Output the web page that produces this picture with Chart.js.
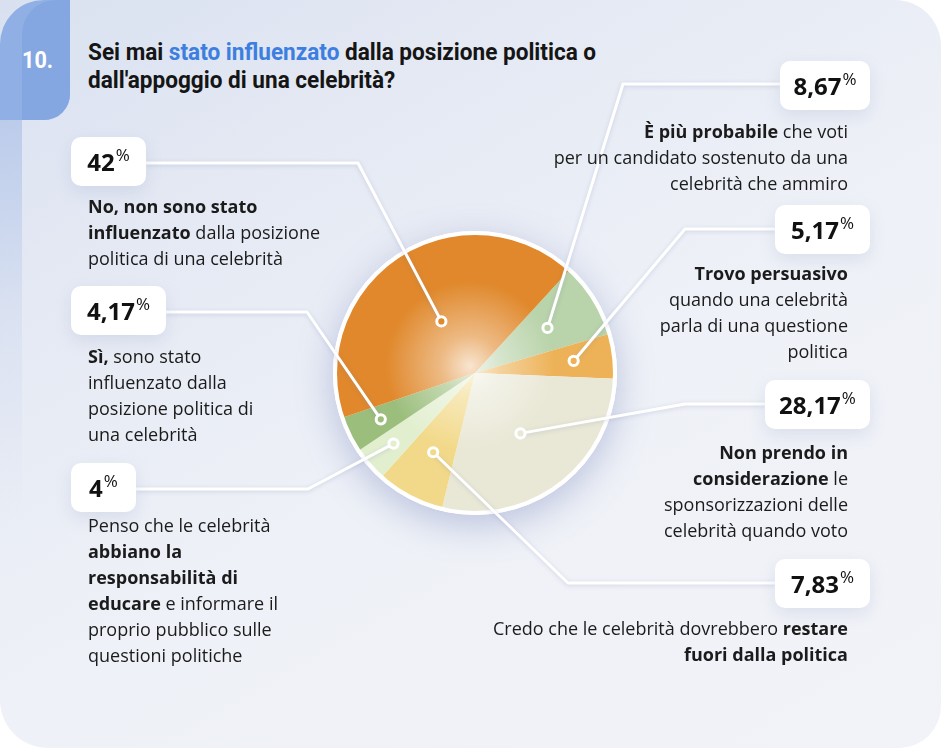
<!DOCTYPE html>
<html lang="it">
<head>
<meta charset="utf-8">
<script src="https://cdn.jsdelivr.net/npm/chart.js@4.4.1/dist/chart.umd.min.js"></script>
<style>
  html, body { margin: 0; padding: 0; background: #ffffff; }
  body { width: 942px; height: 750px; position: relative; overflow: hidden; font-family: "Open Sans", "Noto Sans", sans-serif; color: #1b1b1b; }
  #card {
    position: absolute; left: 0; top: 0; width: 941px; height: 748px;
    border-radius: 0 46px 42px 48px;
    background: linear-gradient(150deg, #d9e1f0 0%, #e6eaf4 28%, #eef1f7 55%, #f2f3f8 100%);
  }
  .strip {
    position: absolute; left: 0; top: 100px; width: 22px; height: 420px;
    background: linear-gradient(180deg, rgba(140,170,225,0.45) 0%, rgba(140,170,225,0.12) 50%, rgba(140,170,225,0) 100%);
  }
  .tab-outer {
    position: absolute; left: 0; top: 0; width: 70px; height: 120px;
    border-radius: 44px 0 26px 0; background: #90b0e5;
  }
  .tab-inner {
    position: absolute; left: 22px; top: 0; width: 48px; height: 120px;
    border-radius: 34px 0 26px 0; background: #84a7e2;
  }
  #num {
    position: absolute; left: 22px; top: 46px; font-family: Roboto, sans-serif; font-weight: 700;
    font-size: 24px; line-height: 28px; color: #ffffff; transform: scaleX(0.9); transform-origin: left top;
  }
  #title {
    position: absolute; left: 88px; top: 38px; font-family: Roboto, sans-serif; font-weight: 700;
    font-size: 24px; line-height: 28px; color: #151515; white-space: nowrap;
    transform: scaleX(0.94); transform-origin: left top;
  }
  #title .hl { color: #3d7fe0; }
  canvas { position: absolute; left: 0; top: 0; }
  .box {
    position: absolute; height: 49px; background: #ffffff; border-radius: 10px;
    box-shadow: 0 6px 16px rgba(130,145,190,0.18);
    text-align: center; line-height: 49px; font-weight: 700; font-size: 24px; color: #111;
    white-space: nowrap;
  }
  .box .pc { font-weight: 400; font-size: 17px; position: relative; top: -10px; margin-left: 1px; }
  .desc { position: absolute; font-size: 18px; line-height: 26px; white-space: nowrap; }
  .desc b { font-weight: 700; }
  .desc.r { text-align: right; }
</style>
</head>
<body>
<div id="card"></div>
<div class="strip"></div>
<div class="tab-outer"></div>
<div class="tab-inner"></div>
<div id="num">10.</div>
<div id="title">Sei mai <span class="hl">stato influenzato</span> dalla posizione politica o<br>dall'appoggio di una celebrità?</div>

<canvas id="pie" width="942" height="750"></canvas>
<div id="boxes"></div>

<div class="desc" style="left:88px; top:193px;"><b>No, non sono stato</b><br><b>influenzato</b> dalla posizione<br>politica di una celebrità</div>
<div class="desc" style="left:88px; top:343px;"><b>Sì,</b> sono stato<br>influenzato dalla<br>posizione politica di<br>una celebrità</div>
<div class="desc" style="left:88px; top:512px;">Penso che le celebrità<br><b>abbiano la</b><br><b>responsabilità di</b><br><b>educare</b> e informare il<br>proprio pubblico sulle<br>questioni politiche</div>

<div class="desc r" style="left:448px; width:400px; top:118px;"><b>È più probabile</b> che voti<br>per un candidato sostenuto da una<br>celebrità che ammiro</div>
<div class="desc r" style="left:448px; width:400px; top:260px;"><b>Trovo persuasivo</b><br>quando una celebrità<br>parla di una questione<br>politica</div>
<div class="desc r" style="left:448px; width:400px; top:439px;"><b>Non prendo in</b><br><b>considerazione</b> le<br>sponsorizzazioni delle<br>celebrità quando voto</div>
<div class="desc r" style="left:448px; width:400px; top:615px;">Credo che le celebrità dovrebbero <b>restare</b><br><b>fuori dalla politica</b></div>

<script>
// answers, clockwise from the top right
const categories = [
  "È più probabile che voti",
  "Trovo persuasivo",
  "Non prendo in considerazione",
  "Restare fuori dalla politica",
  "Responsabilità di educare",
  "Sì, sono stato influenzato",
  "No, non sono stato influenzato",
];
const shares = [8.67, 5.17, 28.17, 7.83, 4, 4.17, 42];
const shareLabels = ["8,67", "5,17", "28,17", "7,83", "4", "4,17", "42"];

const sliceColors = ["#b9d3aa", "#edb257", "#e9e8d6", "#f2d98a", "#e2efcf", "#9bbe7c", "#e0882b"];

// callout layout: value box, elbow of the leader, how deep the dot sits in the slice
const callouts = [
  { box: [780, 61, 90], elbow: [623, 84], depth: 0.61 },
  { box: [775, 205, 95], elbow: [685, 229], depth: 0.71 },
  { box: [765, 380, 105], elbow: [685, 404], depth: 0.54 },
  { box: [775, 559, 95], elbow: [568, 583], depth: 0.64 },
  { box: [71, 463, 65], elbow: [308, 489], depth: 0.77 },
  { box: [71, 286, 95], elbow: [307, 312], depth: 0.75 },
  { box: [71, 137, 75], elbow: [358, 163], depth: 0.44 },
];

const boxHost = document.getElementById("boxes");
callouts.forEach((c, i) => {
  const el = document.createElement("div");
  el.className = "box";
  el.style.left = c.box[0] + "px";
  el.style.top = c.box[1] + "px";
  el.style.width = c.box[2] + "px";
  el.innerHTML = shareLabels[i] + '<span class="pc">%</span>';
  boxHost.appendChild(el);
});

const pieDecor = {
  id: "pieDecor",
  beforeDatasetsDraw(chart) {
    const arc = chart.getDatasetMeta(0).data[0];
    const { x, y, outerRadius } = arc.getProps(["x", "y", "outerRadius"], true);
    const ctx = chart.ctx;
    ctx.save();
    ctx.shadowColor = "rgba(110,125,185,0.4)";
    ctx.shadowBlur = 36;
    ctx.shadowOffsetY = 10;
    ctx.beginPath();
    ctx.arc(x, y, outerRadius + 2, 0, Math.PI * 2);
    ctx.fillStyle = "#ffffff";
    ctx.fill();
    ctx.restore();
  },
  afterDatasetsDraw(chart) {
    const meta = chart.getDatasetMeta(0);
    const { x, y, outerRadius } = meta.data[0].getProps(["x", "y", "outerRadius"], true);
    const ctx = chart.ctx;

    // soft light in the middle
    ctx.save();
    ctx.beginPath();
    ctx.arc(x, y, outerRadius, 0, Math.PI * 2);
    ctx.clip();
    const g = ctx.createRadialGradient(x - 5, y - 7, 0, x - 5, y - 7, 85);
    g.addColorStop(0, "rgba(255,255,255,0.78)");
    g.addColorStop(0.35, "rgba(255,255,255,0.42)");
    g.addColorStop(1, "rgba(255,255,255,0)");
    ctx.fillStyle = g;
    ctx.fillRect(x - 100, y - 100, 200, 200);
    ctx.restore();

    // white rim
    ctx.save();
    ctx.beginPath();
    ctx.arc(x, y, outerRadius, 0, Math.PI * 2);
    ctx.strokeStyle = "#ffffff";
    ctx.lineWidth = 4;
    ctx.stroke();
    ctx.restore();

    // leaders and dots
    meta.data.forEach((a, i) => {
      const p = a.getProps(["startAngle", "endAngle"], true);
      const mid = (p.startAngle + p.endAngle) / 2;
      const r = outerRadius * callouts[i].depth;
      const dx = x + Math.cos(mid) * r;
      const dy = y + Math.sin(mid) * r;
      const c = callouts[i];
      const left = c.box[0] < x;
      const bx = left ? c.box[0] + c.box[2] : c.box[0];
      const by = c.elbow[1];

      ctx.save();
      ctx.shadowColor = "rgba(110,125,170,0.25)";
      ctx.shadowBlur = 4;
      ctx.shadowOffsetY = 1;
      ctx.beginPath();
      ctx.moveTo(bx, by);
      ctx.lineTo(c.elbow[0], c.elbow[1]);
      ctx.lineTo(dx, dy);
      ctx.strokeStyle = "#ffffff";
      ctx.lineWidth = 3;
      ctx.lineJoin = "round";
      ctx.stroke();
      ctx.restore();

      ctx.save();
      ctx.beginPath();
      ctx.arc(dx, dy, 4.6, 0, Math.PI * 2);
      ctx.fillStyle = sliceColors[i];
      ctx.fill();
      ctx.strokeStyle = "#ffffff";
      ctx.lineWidth = 3;
      ctx.stroke();
      ctx.restore();
    });
  },
};

const ctx = document.getElementById("pie").getContext("2d");

new Chart(ctx, {
  type: "pie",
  data: {
    labels: categories,
    datasets: [
      {
        data: shares,
        backgroundColor: sliceColors,
        borderWidth: 0,
        hoverOffset: 0,
      },
    ],
  },
  options: {
    responsive: false,
    animation: false,
    rotation: 42.5,
    layout: { padding: { left: 335, right: 327, top: 233, bottom: 237 } },
    plugins: {
      legend: { display: false },
      tooltip: { enabled: false },
    },
  },
  plugins: [pieDecor],
});
</script>
</body>
</html>
